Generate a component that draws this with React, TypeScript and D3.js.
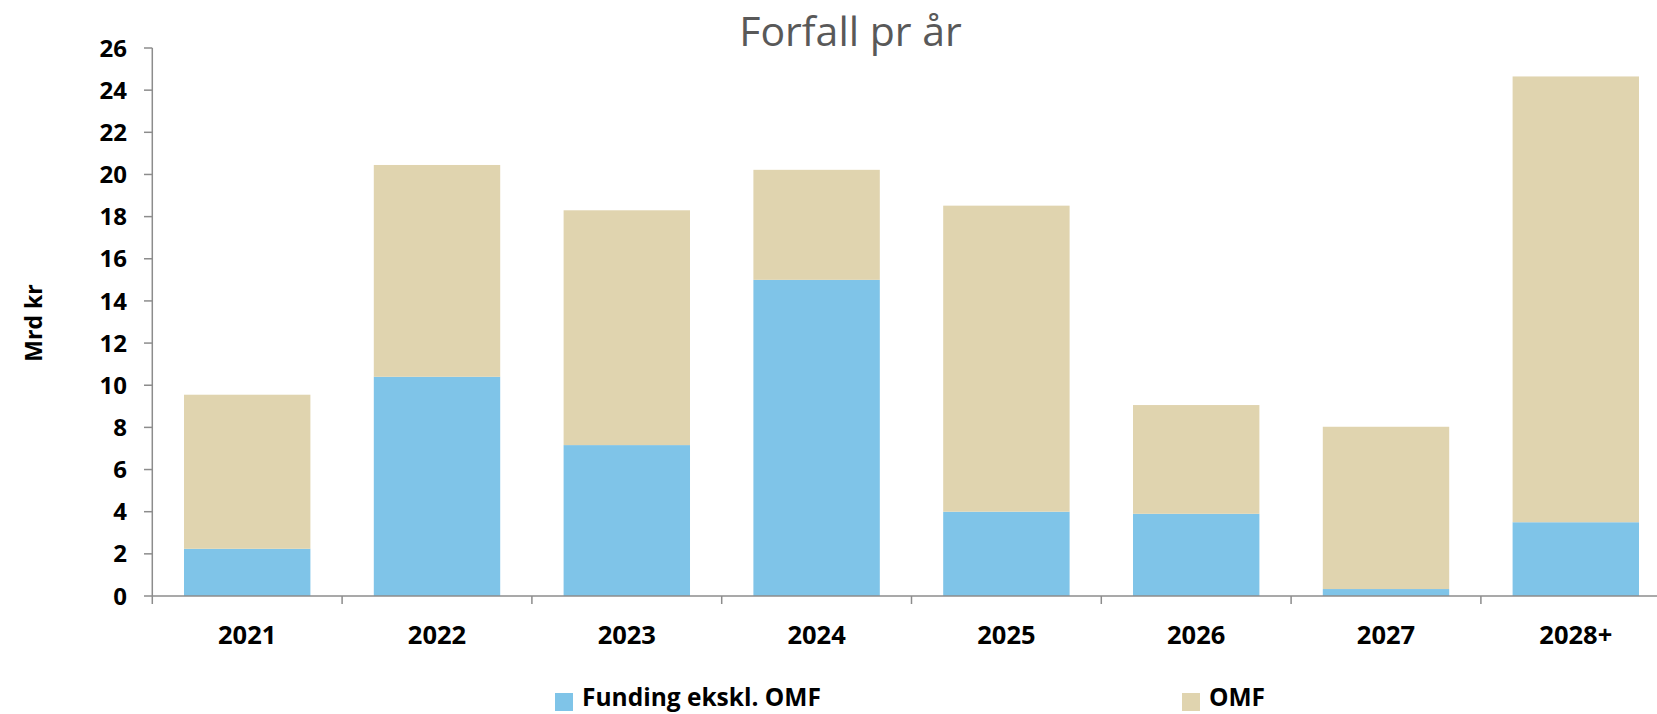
import React from "react";
import * as d3 from "d3";

const categories = ["2021", "2022", "2023", "2024", "2025", "2026", "2027", "2028+"];
const fundingValues = [2.24, 10.4, 7.16, 15.0, 4.0, 3.9, 0.33, 3.5];
const omfValues = [7.31, 10.05, 11.14, 5.22, 14.52, 5.16, 7.7, 21.15];
const yTicks = [0, 2, 4, 6, 8, 10, 12, 14, 16, 18, 20, 22, 24, 26];
const seriesNames = ["Funding ekskl. OMF", "OMF"];
const colors = ["#7FC4E8", "#E0D4AF"];

const W = 1657;
const H = 714;

export default function App() {
  const step = 189.8;
  const x0 = 152.3;
  const x = d3
    .scaleBand<string>()
    .domain(categories)
    .range([x0, x0 + step * categories.length])
    .paddingInner(0.334)
    .paddingOuter(0.167);
  const y = d3.scaleLinear().domain([0, 26]).range([596, 48]);

  const rows = categories.map((c, i) => ({ cat: c, funding: fundingValues[i], omf: omfValues[i] }));
  const stack = d3.stack<any>().keys(["funding", "omf"]);
  const series = stack(rows);

  const font = "'Open Sans', sans-serif";
  const axisColor = "#8C8C8C";

  return (
    <svg
      width={W}
      height={H}
      style={{ position: "absolute", left: 0, top: 0, background: "#fff" }}
      fontFamily={font}
    >
      <text x={850.5} y={45.5} textAnchor="middle" fontSize={41} fill="#595959">
        Forfall pr år
      </text>

      {series.map((s, si) =>
        s.map((d, i) => (
          <rect
            key={`${si}-${i}`}
            x={x(categories[i])!}
            y={y(d[1])}
            width={x.bandwidth()}
            height={y(d[0]) - y(d[1])}
            fill={colors[si]}
          />
        ))
      )}

      {/* Y axis */}
      <line x1={x0} x2={x0} y1={y(26)} y2={y(0)} stroke={axisColor} strokeWidth={1.5} />
      {yTicks.map((t) => (
        <g key={t}>
          <line x1={144} x2={x0} y1={y(t)} y2={y(t)} stroke={axisColor} strokeWidth={1.5} />
          <text x={127} y={y(t)} dy="0.36em" textAnchor="end" fontSize={24} fontWeight="bold" fill="#000">
            {t}
          </text>
        </g>
      ))}

      {/* X axis */}
      <line x1={x0} x2={W} y1={y(0)} y2={y(0)} stroke={axisColor} strokeWidth={1.5} />
      {d3.range(categories.length + 1).map((i) => (
        <line
          key={i}
          x1={x0 + i * x.step()}
          x2={x0 + i * x.step()}
          y1={y(0)}
          y2={y(0) + 8}
          stroke={axisColor}
          strokeWidth={1.5}
        />
      ))}
      {categories.map((c) => (
        <text
          key={c}
          x={x(c)! + x.bandwidth() / 2}
          y={643.5}
          textAnchor="middle"
          fontSize={25.5}
          fontWeight="bold"
          fill="#000"
        >
          {c}
        </text>
      ))}

      <text
        transform="translate(41.5,323) rotate(-90)"
        textAnchor="middle"
        fontSize={23}
        fontWeight="bold"
        fill="#000"
      >
        Mrd kr
      </text>

      {/* Legend */}
      {seriesNames.map((n, i) => {
        const lx = i === 0 ? 555 : 1182;
        return (
          <g key={n}>
            <rect x={lx} y={693} width={18} height={18} fill={colors[i]} />
            <text x={lx + 27} y={706} fontSize={24.5} fontWeight="bold" fill="#000">
              {n}
            </text>
          </g>
        );
      })}
    </svg>
  );
}
